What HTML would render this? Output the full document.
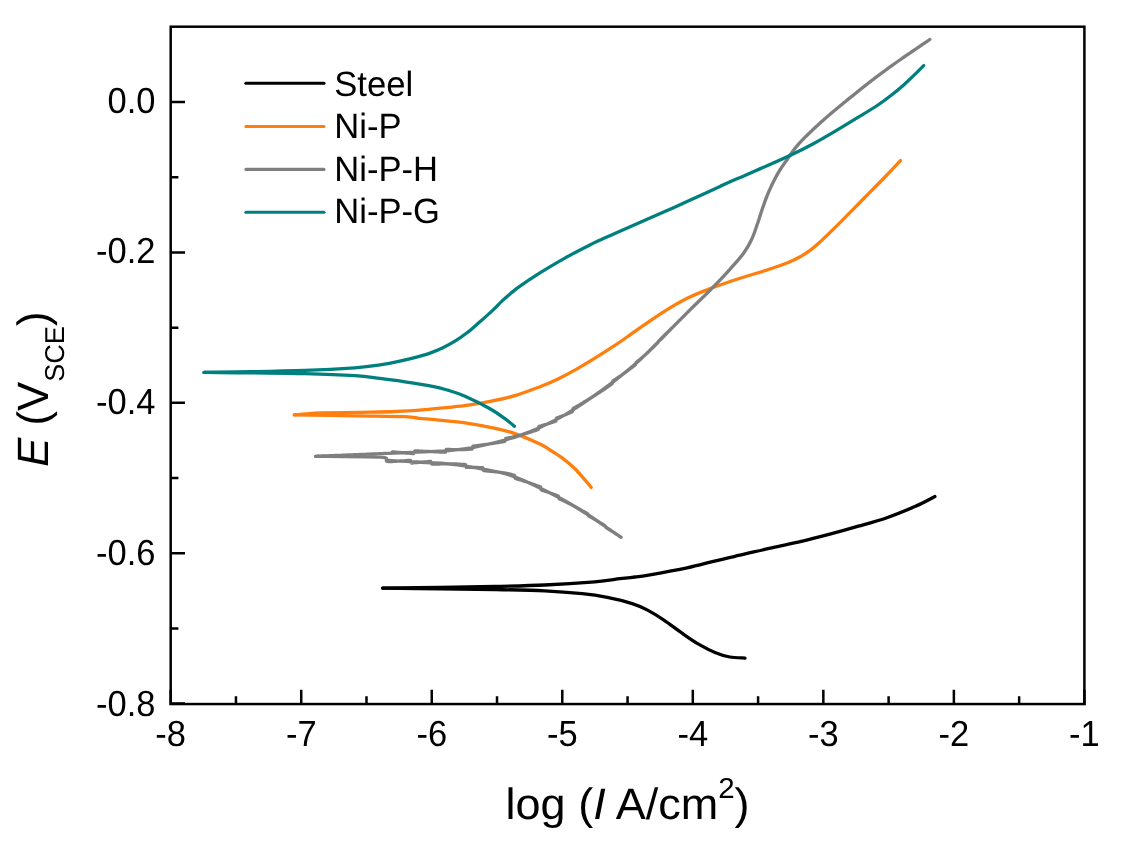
<!DOCTYPE html>
<html lang="en"><head><meta charset="utf-8"><title>Polarization curves</title>
<style>html,body{margin:0;padding:0;background:#fff;}body{width:1121px;height:850px;overflow:hidden;}svg{display:block;}text{font-family:"Liberation Sans",Arial,Helvetica,sans-serif;fill:#000;text-rendering:geometricPrecision;}.tk{font-size:34.5px;}.ti{font-size:45px;}.lg{font-size:34.6px;}.cv{fill:none;stroke-linecap:round;stroke-linejoin:round;}</style></head><body>
<svg width="1121" height="850" viewBox="0 0 1121 850">
<rect x="0" y="0" width="1121" height="850" fill="#ffffff"/>
<path class="cv" d="M382.6 588.1C392.2 588.0 421.3 587.7 440.0 587.4C458.7 587.1 477.4 586.9 494.9 586.5C512.4 586.1 528.1 585.8 544.8 585.0C561.4 584.2 582.3 582.8 594.8 581.8C607.3 580.8 613.3 579.5 620.0 578.7C626.7 577.9 630.0 577.6 635.0 577.0C640.0 576.4 641.3 576.3 650.0 574.8C658.7 573.3 676.2 570.2 687.1 567.9C698.0 565.6 706.1 563.1 715.6 560.8C725.1 558.5 734.7 556.4 744.2 554.2C753.7 552.0 763.2 549.7 772.7 547.6C782.2 545.5 791.8 543.6 801.3 541.4C810.8 539.2 820.3 536.7 829.8 534.2C839.3 531.7 848.9 529.0 858.4 526.2C867.9 523.5 877.4 521.0 886.9 517.7C896.4 514.4 907.5 509.8 915.5 506.3C923.5 502.8 931.7 498.1 934.9 496.5" stroke="#000000" stroke-width="3.3"/>
<path class="cv" d="M382.6 588.1C392.2 588.2 421.3 588.6 440.0 588.8C458.7 589.0 477.4 589.2 494.9 589.5C512.4 589.8 530.2 590.1 544.8 590.8C559.4 591.5 571.9 592.6 582.3 593.7C592.7 594.8 599.0 595.8 607.3 597.4C615.6 599.0 625.6 601.5 632.2 603.6C638.8 605.7 641.8 607.1 647.1 609.9C652.5 612.7 658.6 616.6 664.3 620.4C670.0 624.2 675.7 628.8 681.4 632.7C687.1 636.7 692.8 640.8 698.5 644.1C704.2 647.4 710.4 650.6 715.6 652.7C720.8 654.9 725.0 656.1 729.9 657.0C734.8 657.9 742.5 657.9 745.0 658.1" stroke="#000000" stroke-width="3.3"/>
<path class="cv" d="M294.3 414.9C296.2 414.7 301.6 414.2 306.0 413.9C310.4 413.6 312.3 413.2 320.7 413.0C329.1 412.8 343.9 412.6 356.4 412.4C368.9 412.1 384.3 412.0 395.7 411.5C407.1 411.0 416.1 410.3 425.0 409.6C433.9 408.9 442.1 408.0 449.3 407.3C456.5 406.6 461.2 406.2 468.0 405.2C474.8 404.2 482.2 403.0 490.0 401.4C497.8 399.8 506.8 398.0 514.9 395.6C523.0 393.2 531.6 389.9 538.7 387.2C545.8 384.5 551.2 382.2 557.5 379.2C563.8 376.2 570.0 372.9 576.2 369.4C582.4 365.9 588.6 362.1 594.9 358.2C601.1 354.3 607.9 350.1 613.7 346.2C619.6 342.3 624.2 339.0 630.0 334.9C635.8 330.8 642.5 326.1 648.7 321.8C655.0 317.5 661.2 313.2 667.5 309.3C673.8 305.4 680.0 301.8 686.2 298.7C692.4 295.6 698.6 293.1 704.9 290.6C711.1 288.1 717.5 285.9 723.7 283.7C730.0 281.5 734.7 279.9 742.4 277.5C750.1 275.1 762.1 271.6 770.0 269.0C777.9 266.4 784.8 263.9 789.9 261.8C795.0 259.7 797.1 258.5 800.5 256.6C803.9 254.7 807.0 252.6 810.0 250.4C813.0 248.2 813.6 247.9 818.6 243.3C823.6 238.7 832.3 230.2 840.0 222.6C847.7 215.0 857.5 204.8 864.8 197.5C872.0 190.2 877.5 184.7 883.5 178.5C889.5 172.3 897.7 163.6 900.5 160.6" stroke="#FF7F0E" stroke-width="3.3"/>
<path class="cv" d="M294.3 414.9C304.4 415.0 336.4 415.5 354.8 415.8C373.2 416.1 394.1 416.2 404.8 416.6C415.5 417.0 413.7 417.8 419.0 418.3C424.3 418.8 429.4 419.1 436.8 419.8C444.2 420.5 454.7 421.3 463.6 422.6C472.5 423.9 481.4 425.6 490.0 427.4C498.6 429.2 506.6 430.8 514.9 433.6C523.2 436.4 534.0 441.3 539.9 444.0C545.8 446.7 546.2 447.6 550.0 450.0C553.8 452.4 558.2 455.1 562.4 458.2C566.5 461.3 571.1 465.1 574.9 468.7C578.6 472.3 582.2 476.8 584.9 479.9C587.6 483.0 590.2 486.1 591.2 487.4" stroke="#FF7F0E" stroke-width="3.3"/>
<path class="cv" d="M315.6 456.3C326.3 455.9 365.1 454.3 380.0 453.7C394.9 453.1 393.6 453.2 405.0 452.7C416.4 452.2 438.3 451.3 448.7 450.6C459.1 449.9 461.1 449.5 467.4 448.5C473.6 447.5 479.9 446.0 486.2 444.6C492.4 443.2 499.3 441.5 504.9 440.0C510.5 438.5 514.2 437.5 520.0 435.4C525.8 433.3 532.4 430.8 539.9 427.4C547.4 424.0 556.6 419.7 564.9 414.9C573.2 410.1 581.6 404.4 589.9 398.7C598.2 393.0 606.5 387.1 614.8 380.6C623.1 374.2 631.4 367.6 639.8 360.0C648.2 352.4 656.6 343.4 665.0 335.0C673.4 326.6 682.1 317.8 690.0 309.9C697.9 302.0 705.8 294.7 712.4 287.9C719.0 281.1 724.8 275.0 729.9 269.3C735.0 263.6 739.6 258.6 743.2 253.7C746.8 248.8 749.0 244.9 751.4 239.9C753.8 234.9 755.7 228.9 757.5 223.7C759.3 218.5 760.8 213.5 762.4 208.7C764.0 203.9 765.5 199.6 767.4 195.0C769.3 190.4 771.6 185.4 773.7 181.2C775.8 177.0 777.7 173.5 779.9 170.0C782.1 166.5 784.4 163.5 786.8 160.0C789.2 156.5 791.5 152.8 794.5 149.0C797.5 145.2 799.8 142.5 804.9 137.4C810.0 132.3 817.4 125.3 824.9 118.7C832.4 112.1 841.6 104.7 849.9 97.9C858.2 91.2 866.5 84.5 874.8 78.2C883.1 71.9 890.6 66.5 899.8 60.0C909.0 53.5 924.8 42.9 929.8 39.5M315.6 456.3L316.0 456.3L316.5 456.3L316.9 456.2L317.4 456.2L317.9 456.2L318.5 456.2L319.0 456.2L319.6 456.1L320.2 456.1L320.8 456.1L321.5 456.1L322.1 456.0L322.8 456.0L323.5 456.0L324.3 456.0L325.0 455.9L325.7 455.9L326.5 455.9L327.3 455.8L328.1 455.8L328.9 455.8L329.7 455.7L330.6 455.7L331.4 455.7L332.3 455.6L333.2 455.6L334.1 455.6L334.9 455.5L335.9 455.5L336.8 455.4L337.7 455.4L338.6 455.4L339.5 455.3L340.5 455.3L341.4 455.3L342.4 455.2L343.3 455.2L344.3 455.1L345.3 455.1L346.2 455.1L347.2 455.0L348.2 455.0L349.1 454.9L350.1 454.9L351.1 454.9L352.1 454.8L353.0 454.8L354.0 454.7L354.9 454.7L355.9 454.7L356.9 454.6L357.8 454.6L358.8 454.6L359.7 454.5L360.6 454.5L361.5 454.4L362.5 454.4L363.4 454.4L364.3 454.3L365.2 454.3L366.0 454.3L366.9 454.2L367.8 454.2L368.6 454.2L369.4 454.1L370.3 454.1L371.1 454.1L371.9 454.0L372.6 454.0L373.4 454.0L374.1 453.9L374.9 453.9L375.6 453.9L376.3 453.9L376.9 453.8L377.6 453.8L378.2 453.8L378.8 453.7L379.4 453.7L380.0 453.7L381.4 453.6L382.7 453.6L383.9 453.5L385.0 453.5L386.1 453.5L387.0 453.4L387.9 453.4L388.8 453.4L389.6 453.3L390.3 453.3L391.0 453.3L391.7 453.2L392.3 451.9L392.9 451.9L393.5 452.0L394.1 452.0L394.6 452.1L395.2 452.1L395.8 452.2L396.3 452.2L396.9 452.3L397.6 452.3L398.2 452.4L398.9 452.4L399.6 452.5L400.3 452.5L401.1 452.6L402.0 452.7L402.9 452.7L403.9 452.8L405.0 452.9L405.6 453.0L406.3 453.0L407.0 453.1L407.7 453.1L408.4 453.2L409.2 453.2L409.9 453.3L410.7 453.4L411.5 453.4L412.3 453.5L413.1 453.6L413.9 453.6L414.8 450.9L415.6 450.9L416.5 451.0L417.3 451.0L418.2 451.0L419.1 451.1L420.0 451.1L420.9 451.2L421.8 451.2L422.7 451.2L423.6 451.3L424.5 451.3L425.4 451.4L426.3 451.4L427.2 451.4L428.2 451.5L429.1 451.5L430.0 451.6L430.9 451.6L431.8 451.6L432.7 451.7L433.5 451.7L434.4 451.8L435.3 451.8L436.2 451.8L437.0 451.9L437.9 451.9L438.7 451.9L439.5 452.0L440.3 452.0L441.1 452.0L441.9 452.0L442.6 452.1L443.4 452.1L444.1 452.1L444.8 452.1L445.5 452.2L446.2 449.4L446.9 449.4L447.5 449.4L448.1 449.5L448.7 449.5L450.0 449.5L451.2 449.6L452.4 449.6L453.4 449.7L454.4 449.7L455.4 449.7L456.2 449.7L457.0 449.7L457.8 449.7L458.6 449.7L459.3 449.7L459.9 449.7L460.6 449.7L461.2 449.7L461.9 449.7L462.5 449.6L463.1 449.6L463.8 449.6L464.5 449.5L465.1 449.5L465.9 449.5L466.6 449.4L467.4 449.4L468.2 449.3L469.0 449.3L469.7 449.2L470.5 449.2L471.3 449.1L472.1 449.1L472.9 446.2L473.7 446.1L474.4 446.0L475.2 445.9L476.0 445.8L476.8 445.7L477.6 445.6L478.4 445.5L479.2 445.4L479.9 445.3L480.7 445.2L481.5 445.1L482.3 444.9L483.1 444.8L483.9 444.7L484.6 444.6L485.4 444.5L486.2 444.4L487.0 444.3L487.8 444.2L488.6 444.0L489.4 443.9L490.2 443.8L491.0 443.7L491.8 443.6L492.6 443.4L493.4 443.3L494.2 443.2L495.0 443.1L495.8 442.9L496.6 442.8L497.4 442.7L498.2 442.6L498.9 442.4L499.7 442.3L500.5 442.2L501.2 442.0L502.0 441.9L502.7 441.8L503.5 441.6L504.2 441.5L504.9 441.4L505.8 438.4L506.6 438.3L507.4 438.1L508.2 437.9L509.0 437.8L509.8 437.6L510.5 437.5L511.3 437.3L512.0 437.2L512.7 437.0L513.5 436.9L514.2 436.7L515.0 436.5L515.8 436.3L516.6 436.1L517.4 435.9L518.2 435.7L519.1 435.5L520.0 435.2L520.7 435.1L521.4 434.9L522.0 434.7L522.7 434.5L523.4 434.3L524.2 434.1L524.9 433.9L525.6 433.6L526.3 433.4L527.1 433.2L527.8 433.0L528.6 432.7L529.3 432.5L530.1 432.3L530.9 432.0L531.7 431.8L532.4 431.5L533.2 431.2L534.0 431.0L534.9 430.7L535.7 430.4L536.5 430.1L537.3 429.8L538.2 429.5L539.0 426.4L539.9 426.2L540.6 426.0L541.2 425.8L541.9 425.6L542.6 425.4L543.3 425.2L544.0 424.9L544.7 424.7L545.4 424.5L546.2 424.3L546.9 424.1L547.6 423.8L548.3 423.6L549.1 423.3L549.8 423.1L550.6 422.9L551.3 422.6L552.1 422.4L552.8 422.1L553.6 421.9L554.4 421.6L555.1 421.3L555.9 421.1L556.6 418.0L557.4 417.7L558.2 417.5L558.9 417.2L559.7 416.9L560.4 416.7L561.2 416.4L561.9 416.1L562.7 415.8L563.4 415.5L564.2 415.2L564.9 414.9L565.6 414.7L566.3 414.4L566.9 414.1L567.6 413.8L568.3 413.5L569.0 413.2L569.6 412.9L570.3 412.6L571.0 412.3L571.7 412.0L572.3 411.7L573.0 408.6L573.7 408.2L574.4 407.8L575.0 407.4L575.7 407.1L576.4 406.7L577.1 406.3L577.7 405.9L578.4 405.5L579.1 405.1L579.8 404.7L580.4 404.3L581.1 403.9L581.8 403.5L582.5 403.1L583.2 402.6L583.8 402.2L584.5 401.8L585.2 401.4L585.9 401.0L586.5 400.6L587.2 400.2L587.9 399.8L588.6 399.3L589.2 398.9L589.9 398.5L590.6 398.1L591.2 397.7L591.9 397.3L592.5 396.9L593.2 396.5L593.8 396.1L594.5 395.6L595.1 395.2L595.8 394.8L596.5 394.4L597.1 394.0L597.8 393.5L598.4 393.1L599.1 392.7L599.7 392.3L600.4 391.8L601.0 391.4L601.7 391.0L602.4 390.5L603.0 390.1L603.7 389.6L604.3 389.2L605.0 388.8L605.6 388.3L606.3 387.9L606.9 387.4L607.6 387.0L608.2 386.5L608.9 386.0L609.6 385.6L610.2 385.1L610.9 384.6L611.5 384.2L612.2 383.7L612.8 381.1L613.5 380.6L614.1 380.2L614.8 379.8L615.4 379.3L616.0 378.9L616.7 378.5L617.3 378.1L617.9 377.6L618.5 377.2L619.2 376.8L619.8 376.4L620.4 375.9L621.0 375.5L621.7 375.0L622.3 374.6L622.9 374.2L623.5 373.7L624.2 373.3L624.8 372.8L625.4 372.4L626.0 371.9L626.7 371.4L627.3 371.0L627.9 370.5L628.5 370.0L629.2 369.6L629.8 369.1L630.4 368.6L631.0 368.1L631.7 367.6L632.3 367.2L632.9 366.7L633.5 366.2L634.2 365.7L634.8 365.2L635.4 364.7L636.0 362.6L636.7 362.1L637.3 361.6L637.9 361.1L638.5 360.6L639.2 360.1L639.8 359.6L640.4 359.1L640.9 358.6L641.5 358.1L642.1 357.6L642.7 357.1L643.2 356.6L643.8 356.1L644.4 355.6L644.9 355.1L645.5 354.5L646.1 354.0L646.7 353.5L647.2 353.0L647.8 352.4L648.4 351.9L649.0 351.3L649.5 350.8L650.1 350.3L650.7 349.7L651.3 349.1L651.8 348.6L652.4 348.0L653.0 347.5L653.5 346.9L654.1 346.4L654.7 345.8L655.3 345.2L655.8 344.7L656.4 344.1L657.0 343.5L657.6 343.0L658.1 342.4L658.7 340.9L659.3 340.4L659.9 339.8L660.4 339.2L661.0 338.7L661.6 338.1L662.1 337.6L662.7 337.0L663.3 336.4L663.9 335.9L664.4 335.3L665.0 334.8L665.6 334.2L666.1 333.6L666.7 333.1L667.3 332.5L667.9 332.0L668.4 331.4L669.0 330.8L669.6 330.3L670.2 329.7L670.7 329.1L671.3 328.6L671.9 328.0L672.5 327.4L673.1 326.8L673.6 326.3L674.2 325.7L674.8 325.1L675.4 324.5L675.9 324.0L676.5 323.4L677.1 322.8L677.7 322.2L678.2 321.7L678.8 321.1L679.4 320.5L680.0 320.0L680.5 319.4L681.1 318.8L681.7 318.2L682.2 317.7L682.8 317.1L683.4 316.5L683.9 316.0L684.5 315.4L685.1 314.9L685.6 314.3L686.2 313.7L686.7 313.2L687.3 312.6L687.8 312.1L688.4 311.5L688.9 311.0L689.5 310.4L690.0 309.9L690.6 309.3L691.2 308.7L691.8 308.1L692.4 307.5L693.0 306.9L693.6 306.3L694.2 305.7L694.8 305.1L695.4 304.5L696.0 304.0L696.6 303.4L697.2 302.8L697.8 302.2L698.4 301.6L699.0 301.1L699.6 300.5L700.2 299.9L700.8 299.3L701.4 298.8L702.0 298.2L702.5 297.6L703.1 297.1L703.7 296.5L704.3 296.0L704.8 295.4L705.4 294.9L706.0 294.3L706.5 293.8L707.1 293.2L707.6 292.7L708.2 292.1L708.7 291.6L709.2 291.1L709.8 290.5L710.3 290.0L710.8 289.5L711.4 288.9L711.9 288.4L712.4 287.9L713.0 287.2L713.7 286.6L714.3 286.0L714.9 285.3L715.5 284.7L716.2 284.0L716.8 283.4L717.4 282.8L718.0 282.2L718.6 281.5L719.1 280.9L719.7 280.3L720.3 279.7L720.9 279.1L721.4 278.5L722.0 277.9L722.6 277.3L723.1 276.7L723.7 276.1L724.2 275.5L724.7 275.0L725.3 274.4L725.8 273.8L726.3 273.2L726.9 272.7L727.4 272.1L727.9 271.5L728.4 271.0L728.9 270.4L729.4 269.9L729.9 269.3L730.5 268.6L731.1 267.9L731.7 267.3L732.3 266.6L732.9 266.0L733.5 265.3L734.1 264.7L734.6 264.0L735.2 263.4L735.8 262.8L736.3 262.1L736.9 261.5L737.4 260.9L737.9 260.3L738.4 259.7L739.0 259.1L739.5 258.5L740.0 257.9L740.5 257.3L740.9 256.7L741.4 256.1L741.9 255.5L742.3 254.9L742.8 254.3L743.2 253.7L743.7 253.0L744.2 252.3L744.7 251.6L745.2 250.9L745.7 250.2L746.1 249.5L746.5 248.8L746.9 248.2L747.4 247.5L747.8 246.8L748.1 246.2L748.5 245.5L748.9 244.8L749.3 244.2L749.6 243.5L750.0 242.8L750.3 242.1L750.7 241.4L751.0 240.6L751.4 239.9L751.7 239.2L752.1 238.4L752.4 237.7L752.7 236.9L753.0 236.2L753.3 235.4L753.6 234.6L753.9 233.8L754.2 233.1L754.5 232.3L754.8 231.5L755.1 230.7L755.4 229.9L755.6 229.1L755.9 228.3L756.2 227.5L756.4 226.7L756.7 226.0L757.0 225.2L757.2 224.4L757.5 223.7L757.8 222.9L758.1 222.1L758.3 221.3L758.6 220.4L758.9 219.6L759.1 218.8L759.4 218.0L759.6 217.2L759.9 216.4L760.1 215.6L760.4 214.9L760.6 214.1L760.9 213.3L761.1 212.5L761.4 211.8L761.6 211.0L761.9 210.2L762.1 209.5L762.4 208.7L762.7 207.9L762.9 207.1L763.2 206.3L763.5 205.6L763.7 204.8L764.0 204.0L764.3 203.3L764.5 202.5L764.8 201.8L765.1 201.0L765.4 200.3L765.6 199.5L765.9 198.8L766.2 198.0L766.5 197.3L766.8 196.5L767.1 195.8L767.4 195.0L767.7 194.2L768.0 193.5L768.4 192.7L768.7 191.9L769.1 191.1L769.4 190.3L769.8 189.5L770.1 188.7L770.5 187.9L770.8 187.2L771.2 186.4L771.6 185.6L771.9 184.8L772.3 184.1L772.6 183.4L773.0 182.6L773.4 181.9L773.7 181.2L774.1 180.4L774.5 179.7L774.9 178.9L775.2 178.2L775.6 177.5L776.0 176.8L776.4 176.1L776.8 175.4L777.1 174.7L777.5 174.0L777.9 173.3L778.3 172.7L778.7 172.0L779.1 171.3L779.5 170.7L779.9 170.0L780.3 169.3L780.8 168.6L781.2 167.9L781.7 167.3L782.1 166.6L782.6 166.0L783.0 165.3L783.5 164.7L783.9 164.0L784.4 163.4L784.9 162.7L785.4 162.0L785.8 161.4L786.3 160.7L786.8 160.0L787.3 159.3L787.7 158.7L788.2 158.0L788.6 157.3L789.1 156.7L789.5 156.0L790.0 155.3L790.4 154.6L790.9 153.9L791.4 153.2L791.9 152.5L792.4 151.8L792.9 151.1L793.4 150.4L793.9 149.7L794.5 149.0L795.0 148.4L795.4 147.8L795.9 147.3L796.3 146.7L796.8 146.2L797.3 145.6L797.7 145.1L798.2 144.5L798.7 144.0L799.2 143.4L799.7 142.8L800.2 142.2L800.8 141.6L801.4 141.0L802.0 140.3L802.7 139.6L803.4 138.9L804.1 138.2L804.9 137.4L805.4 136.9L805.8 136.5L806.3 136.0L806.8 135.5L807.3 135.0L807.8 134.6L808.3 134.0L808.8 133.5L809.4 133.0L809.9 132.5L810.5 131.9L811.0 131.4L811.6 130.9L812.2 130.3L812.8 129.8L813.4 129.2L814.0 128.6L814.6 128.1L815.2 127.5L815.8 126.9L816.5 126.3L817.1 125.7L817.7 125.2L818.4 124.6L819.0 124.0L819.6 123.4L820.3 122.8L820.9 122.2L821.6 121.6L822.3 121.0L822.9 120.5L823.6 119.9L824.2 119.3L824.9 118.7L825.5 118.2L826.0 117.7L826.6 117.2L827.2 116.7L827.8 116.2L828.4 115.7L829.0 115.2L829.6 114.7L830.2 114.1L830.8 113.6L831.4 113.1L832.0 112.6L832.7 112.1L833.3 111.5L833.9 111.0L834.5 110.5L835.2 110.0L835.8 109.4L836.5 108.9L837.1 108.4L837.7 107.8L838.4 107.3L839.0 106.8L839.7 106.2L840.3 105.7L841.0 105.2L841.6 104.7L842.2 104.1L842.9 103.6L843.5 103.1L844.2 102.5L844.8 102.0L845.5 101.5L846.1 101.0L846.7 100.5L847.4 99.9L848.0 99.4L848.6 98.9L849.3 98.4L849.9 97.9L850.5 97.4L851.2 96.9L851.8 96.3L852.5 95.8L853.1 95.3L853.7 94.8L854.4 94.3L855.0 93.8L855.7 93.2L856.3 92.7L856.9 92.2L857.6 91.7L858.2 91.2L858.8 90.7L859.5 90.2L860.1 89.7L860.8 89.2L861.4 88.6L862.0 88.1L862.7 87.6L863.3 87.1L863.9 86.6L864.6 86.1L865.2 85.6L865.9 85.1L866.5 84.6L867.1 84.1L867.8 83.6L868.4 83.1L869.0 82.6L869.7 82.1L870.3 81.6L871.0 81.1L871.6 80.6L872.2 80.2L872.9 79.7L873.5 79.2L874.2 78.7L874.8 78.2L875.5 77.7L876.1 77.2L876.8 76.7L877.4 76.2L878.0 75.7L878.7 75.3L879.3 74.8L880.0 74.3L880.6 73.8L881.2 73.4L881.9 72.9L882.5 72.4L883.2 72.0L883.8 71.5L884.4 71.0L885.1 70.5L885.7 70.1L886.3 69.6L887.0 69.2L887.6 68.7L888.3 68.2L888.9 67.7L889.6 67.3L890.2 66.8L890.9 66.3L891.5 65.9L892.2 65.4L892.9 64.9L893.5 64.4L894.2 64.0L894.9 63.5L895.6 63.0L896.3 62.5L897.0 62.0L897.7 61.5L898.4 61.0L899.1 60.5L899.8 60.0L900.4 59.6L901.1 59.1L901.7 58.7L902.4 58.2L903.1 57.7L903.8 57.2L904.5 56.7L905.2 56.2L906.0 55.7L906.7 55.2L907.5 54.7L908.2 54.2L909.0 53.6L909.8 53.1L910.5 52.6L911.3 52.0L912.1 51.5L912.9 51.0L913.7 50.5L914.4 49.9L915.2 49.4L916.0 48.9L916.7 48.4L917.5 47.8L918.2 47.3L919.0 46.8L919.7 46.3L920.4 45.8L921.1 45.4L921.8 44.9L922.5 44.4L923.2 44.0L923.8 43.6L924.4 43.1L925.1 42.7L925.6 42.3L926.2 41.9L926.7 41.6L927.3 41.2L927.8 40.9L928.2 40.6L928.7 40.3L929.1 40.0L929.5 39.7L929.8 39.5" stroke="#7F7F7F" stroke-width="3.3"/>
<path class="cv" d="M315.6 456.3C326.3 456.4 367.8 456.5 380.0 457.2C392.2 457.9 382.4 459.6 388.7 460.4C394.9 461.2 407.3 461.4 417.5 462.0C427.7 462.6 441.2 463.2 450.0 464.0C458.8 464.8 464.5 465.9 470.5 466.8C476.5 467.8 480.5 468.6 486.2 469.7C491.9 470.8 499.3 472.1 504.9 473.6C510.5 475.2 514.2 476.6 520.0 479.0C525.8 481.4 532.4 484.4 539.9 488.0C547.4 491.6 556.6 496.1 564.9 500.8C573.2 505.5 582.4 511.2 589.9 516.0C597.4 520.8 604.6 526.1 609.8 529.6C615.0 533.1 619.2 536.0 621.1 537.3M315.6 456.3L316.0 456.3L316.5 456.3L316.9 456.3L317.4 456.3L318.0 456.3L318.5 456.3L319.1 456.3L319.7 456.3L320.3 456.3L320.9 456.4L321.6 456.4L322.3 456.4L323.0 456.4L323.7 456.4L324.5 456.4L325.2 456.4L326.0 456.4L326.8 456.4L327.6 456.4L328.5 456.4L329.3 456.4L330.2 456.4L331.1 456.4L331.9 456.4L332.8 456.4L333.7 456.4L334.7 456.5L335.6 456.5L336.5 456.5L337.5 456.5L338.4 456.5L339.4 456.5L340.4 456.5L341.3 456.5L342.3 456.5L343.3 456.5L344.3 456.5L345.3 456.5L346.3 456.5L347.3 456.5L348.2 456.6L349.2 456.6L350.2 456.6L351.2 456.6L352.2 456.6L353.2 456.6L354.2 456.6L355.2 456.6L356.1 456.6L357.1 456.7L358.1 456.7L359.0 456.7L360.0 456.7L360.9 456.7L361.8 456.7L362.7 456.7L363.7 456.7L364.6 456.8L365.4 456.8L366.3 456.8L367.2 456.8L368.0 456.8L368.8 456.8L369.7 456.9L370.5 456.9L371.2 456.9L372.0 456.9L372.7 456.9L373.5 457.0L374.2 457.0L374.9 457.0L375.5 457.0L376.2 457.0L376.8 457.1L377.4 457.1L378.0 457.1L378.5 457.1L379.0 457.1L379.5 457.2L380.0 457.2L382.8 457.4L384.7 457.7L385.8 458.0L386.4 459.6L386.6 459.9L386.5 460.3L386.4 460.6L386.4 460.9L386.6 461.2L387.4 461.4L388.7 461.5L389.2 461.5L389.8 461.5L390.4 461.5L391.0 461.5L391.6 461.5L392.3 461.5L393.0 461.4L393.7 461.4L394.4 461.4L395.1 461.3L395.9 461.3L396.7 461.2L397.5 461.2L398.3 461.1L399.1 461.1L399.9 461.0L400.8 461.0L401.6 460.9L402.5 460.9L403.3 460.8L404.2 460.8L405.1 460.7L406.0 460.6L406.9 460.6L407.8 460.5L408.7 460.4L409.6 460.4L410.5 460.3L411.4 463.0L412.3 463.0L413.1 462.9L414.0 462.8L414.9 462.7L415.8 462.7L416.6 462.6L417.5 462.5L418.3 462.4L419.1 462.4L419.9 462.3L420.7 462.3L421.5 462.2L422.3 462.1L423.1 462.0L424.0 462.0L424.8 461.9L425.6 461.8L426.5 461.8L427.4 461.7L428.2 461.6L429.1 461.5L429.9 461.5L430.8 461.4L431.7 464.1L432.5 464.1L433.4 464.1L434.3 464.1L435.1 464.1L436.0 464.0L436.8 464.0L437.7 464.0L438.5 464.0L439.4 464.0L440.2 463.9L441.0 463.9L441.8 463.9L442.6 463.9L443.4 463.9L444.2 463.9L445.0 463.9L445.7 463.9L446.5 463.9L447.2 463.9L447.9 463.9L448.6 463.9L449.3 463.9L450.0 463.9L451.0 463.9L452.1 463.9L453.0 463.9L454.0 463.9L454.9 464.0L455.9 464.0L456.7 464.0L457.6 464.1L458.5 464.1L459.3 464.2L460.1 464.2L460.9 464.3L461.7 464.3L462.5 464.4L463.2 464.4L464.0 464.5L464.7 464.5L465.4 464.6L466.2 467.4L466.9 467.4L467.6 467.4L468.3 467.4L469.1 467.4L469.8 467.4L470.5 467.4L471.4 467.4L472.3 467.4L473.2 467.4L474.1 467.5L474.9 467.5L475.7 467.5L476.5 467.5L477.3 467.5L478.1 467.6L478.8 467.6L479.6 467.6L480.4 467.6L481.2 467.7L482.0 467.7L482.8 467.7L483.6 470.6L484.4 470.7L485.3 470.8L486.2 470.9L487.0 470.9L487.7 471.0L488.5 471.1L489.3 471.2L490.1 471.3L491.0 471.3L491.8 471.4L492.6 471.5L493.5 471.6L494.3 471.7L495.2 471.8L496.0 471.9L496.9 471.9L497.7 472.0L498.5 472.1L499.4 472.2L500.2 472.3L501.0 472.5L501.8 472.6L502.6 472.7L503.4 472.8L504.2 472.9L504.9 473.1L505.7 473.2L506.5 473.4L507.3 473.5L508.1 473.7L508.8 473.9L509.5 474.0L510.3 474.2L511.0 474.4L511.7 474.6L512.4 474.8L513.1 475.0L513.8 475.2L514.5 475.4L515.2 478.4L516.0 478.6L516.7 478.8L517.5 479.1L518.3 479.3L519.1 479.6L520.0 479.8L520.7 480.0L521.3 480.2L522.0 480.4L522.6 480.6L523.3 480.9L524.0 481.1L524.7 481.3L525.4 481.5L526.1 481.8L526.8 482.0L527.5 482.2L528.2 482.5L529.0 482.7L529.7 483.0L530.4 483.2L531.2 483.5L531.9 483.8L532.7 484.0L533.5 484.3L534.3 484.6L535.0 484.9L535.8 485.2L536.6 485.5L537.4 485.8L538.3 486.1L539.1 486.4L539.9 486.7L540.5 486.9L541.2 490.0L541.9 490.2L542.5 490.4L543.2 490.6L543.9 490.8L544.6 491.1L545.3 491.3L546.0 491.5L546.7 491.8L547.4 492.0L548.1 492.2L548.8 492.5L549.5 492.7L550.3 493.0L551.0 493.3L551.7 493.5L552.4 493.8L553.2 494.0L553.9 494.3L554.7 494.6L555.4 494.9L556.1 495.2L556.9 495.4L557.6 495.7L558.3 496.0L559.1 498.8L559.8 499.1L560.6 499.4L561.3 499.8L562.0 500.1L562.7 500.4L563.5 500.8L564.2 501.1L564.9 501.4L565.6 501.8L566.3 502.1L567.0 502.5L567.7 502.8L568.4 503.2L569.1 503.5L569.8 503.9L570.6 504.3L571.3 504.6L572.0 505.0L572.7 505.4L573.4 505.8L574.1 506.1L574.9 506.5L575.6 506.9L576.3 507.3L577.0 507.7L577.7 508.1L578.4 508.5L579.1 508.9L579.8 509.3L580.5 509.7L581.2 510.1L581.9 510.5L582.6 510.9L583.3 511.2L584.0 511.6L584.7 512.0L585.4 512.4L586.0 512.8L586.7 513.2L587.3 513.6L588.0 514.0L588.6 516.0L589.3 516.3L589.9 516.7L590.6 517.1L591.4 517.5L592.1 517.9L592.9 518.3L593.6 518.7L594.3 519.2L595.1 519.6L595.8 520.0L596.5 520.4L597.2 520.9L597.9 521.3L598.6 521.7L599.3 522.1L600.0 522.6L600.7 523.0L601.4 523.4L602.0 523.8L602.7 524.3L603.4 524.7L604.0 525.1L604.6 525.5L605.2 525.9L605.9 527.4L606.5 527.8L607.0 528.2L607.6 528.6L608.2 528.9L608.7 529.3L609.3 529.6L609.8 530.0L610.7 530.6L611.6 531.1L612.5 531.7L613.3 532.2L614.1 532.7L614.9 533.2L615.6 533.7L616.3 534.2L617.0 534.6L617.7 535.0L618.3 535.4L618.9 535.8L619.4 536.2L619.9 536.5L620.3 536.8L620.7 537.0L621.1 537.3" stroke="#7F7F7F" stroke-width="3.3"/>
<path class="cv" d="M204.0 372.4C211.7 372.3 233.2 372.0 250.0 371.7C266.8 371.4 287.4 371.0 304.9 370.4C322.4 369.8 342.3 368.7 354.8 367.8C367.3 366.9 372.7 366.0 380.0 364.9C387.3 363.8 392.4 362.8 398.7 361.4C404.9 360.0 412.3 358.2 417.5 356.8C422.7 355.4 425.9 354.6 430.0 353.1C434.1 351.7 438.2 350.1 442.4 348.1C446.5 346.1 450.7 343.8 454.9 341.2C459.1 338.6 463.2 335.7 467.4 332.5C471.6 329.3 475.7 325.4 479.9 321.8C484.1 318.2 488.6 314.1 492.4 310.6C496.1 307.1 499.3 303.5 502.4 300.6C505.5 297.7 508.2 295.5 511.1 293.1C514.0 290.7 515.2 289.6 520.0 286.2C524.8 282.8 532.4 277.6 539.9 272.9C547.4 268.2 556.6 262.8 564.9 258.1C573.2 253.4 581.6 249.0 589.9 244.9C598.2 240.8 606.5 237.3 614.8 233.6C623.1 229.9 631.5 226.3 639.8 222.6C648.1 218.9 656.5 215.3 664.8 211.6C673.1 207.9 680.6 204.5 689.8 200.3C699.0 196.1 712.0 190.0 720.0 186.4C728.0 182.8 730.4 181.7 737.5 178.6C744.6 175.5 753.7 171.7 762.4 167.8C771.1 164.0 781.6 159.4 789.9 155.5C798.2 151.6 804.5 148.5 812.4 144.2C820.3 139.9 829.5 134.5 837.4 129.8C845.3 125.1 853.1 120.4 860.0 116.2C866.9 112.0 873.5 108.0 878.7 104.5C883.9 101.0 887.0 98.6 891.2 95.3C895.4 92.0 899.5 88.6 903.7 84.9C907.9 81.2 912.9 76.3 916.2 73.1C919.5 69.9 922.5 66.8 923.7 65.6" stroke="#007F7F" stroke-width="3.3"/>
<path class="cv" d="M204.0 372.4C211.7 372.5 233.2 372.7 250.0 372.9C266.8 373.1 287.4 373.1 304.9 373.6C322.4 374.1 342.3 374.9 354.8 375.7C367.3 376.5 371.6 377.4 380.0 378.4C388.4 379.4 396.2 380.5 405.0 381.8C413.8 383.1 425.3 384.9 432.5 386.3C439.7 387.7 442.6 388.6 448.0 390.2C453.4 391.8 458.0 393.1 465.0 396.2C472.0 399.3 483.4 404.9 490.0 408.7C496.6 412.4 500.8 415.8 504.9 418.7C509.0 421.6 512.8 424.9 514.4 426.2" stroke="#007F7F" stroke-width="3.3"/>
<path d="M170.70 705.05V689.75M235.96 705.05V696.35M301.23 705.05V689.75M366.49 705.05V696.35M431.76 705.05V689.75M497.02 705.05V696.35M562.29 705.05V689.75M627.55 705.05V696.35M692.81 705.05V689.75M758.08 705.05V696.35M823.34 705.05V689.75M888.61 705.05V696.35M953.87 705.05V689.75M1019.14 705.05V696.35M1084.40 705.05V689.75M170.70 703.61H185.00M170.70 628.42H178.40M170.70 553.22H185.00M170.70 478.03H178.40M170.70 402.83H185.00M170.70 327.64H178.40M170.70 252.44H185.00M170.70 177.24H178.40M170.70 102.05H185.00" stroke="#000" stroke-width="2.5" fill="none"/>
<rect x="170.70" y="26.70" width="913.70" height="677.35" fill="none" stroke="#000" stroke-width="2.5"/>
<text class="tk" transform="translate(170.70 745.50) scale(1.0 1.05)" text-anchor="middle">-8</text>
<text class="tk" transform="translate(301.23 745.50) scale(1.0 1.05)" text-anchor="middle">-7</text>
<text class="tk" transform="translate(431.76 745.50) scale(1.0 1.05)" text-anchor="middle">-6</text>
<text class="tk" transform="translate(562.29 745.50) scale(1.0 1.05)" text-anchor="middle">-5</text>
<text class="tk" transform="translate(692.81 745.50) scale(1.0 1.05)" text-anchor="middle">-4</text>
<text class="tk" transform="translate(823.34 745.50) scale(1.0 1.05)" text-anchor="middle">-3</text>
<text class="tk" transform="translate(953.87 745.50) scale(1.0 1.05)" text-anchor="middle">-2</text>
<text class="tk" transform="translate(1084.40 745.50) scale(1.0 1.05)" text-anchor="middle">-1</text>
<text class="tk" transform="translate(155.50 715.90) scale(1.0 1.05)" text-anchor="end">-0.8</text>
<text class="tk" transform="translate(155.50 564.80) scale(1.0 1.05)" text-anchor="end">-0.6</text>
<text class="tk" transform="translate(155.50 413.80) scale(1.0 1.05)" text-anchor="end">-0.4</text>
<text class="tk" transform="translate(155.50 262.90) scale(1.0 1.05)" text-anchor="end">-0.2</text>
<text class="tk" transform="translate(155.50 113.00) scale(1.0 1.05)" text-anchor="end">0.0</text>
<text class="ti" transform="translate(627.60 819.00) scale(1.0 0.975)" text-anchor="middle">log (<tspan font-style="italic">I</tspan> A/cm<tspan font-size="29.5px" dy="-21.8">2</tspan><tspan dy="21.8">)</tspan></text>
<text class="ti" transform="translate(48.20 389.10) rotate(-90) scale(0.97 0.975)" text-anchor="middle"><tspan font-style="italic">E</tspan> (V<tspan font-size="28px" dy="16">SCE</tspan><tspan dy="-16">)</tspan></text>
<path class="cv" d="M245.9 83.2H324.0" stroke="#000000" stroke-width="3.1"/>
<text class="lg" transform="translate(334.30 95.60) scale(1.0 1.015)">Steel</text>
<path class="cv" d="M245.9 126.5H324.0" stroke="#FF7F0E" stroke-width="3.1"/>
<text class="lg" transform="translate(334.30 138.20) scale(1.0 1.015)">Ni-P</text>
<path class="cv" d="M245.9 169.4H324.0" stroke="#7F7F7F" stroke-width="3.1"/>
<text class="lg" transform="translate(334.30 180.70) scale(1.0 1.015)">Ni-P-H</text>
<path class="cv" d="M245.9 212.3H324.0" stroke="#007F7F" stroke-width="3.1"/>
<text class="lg" transform="translate(334.30 223.30) scale(1.0 1.015)">Ni-P-G</text>
</svg></body></html>
